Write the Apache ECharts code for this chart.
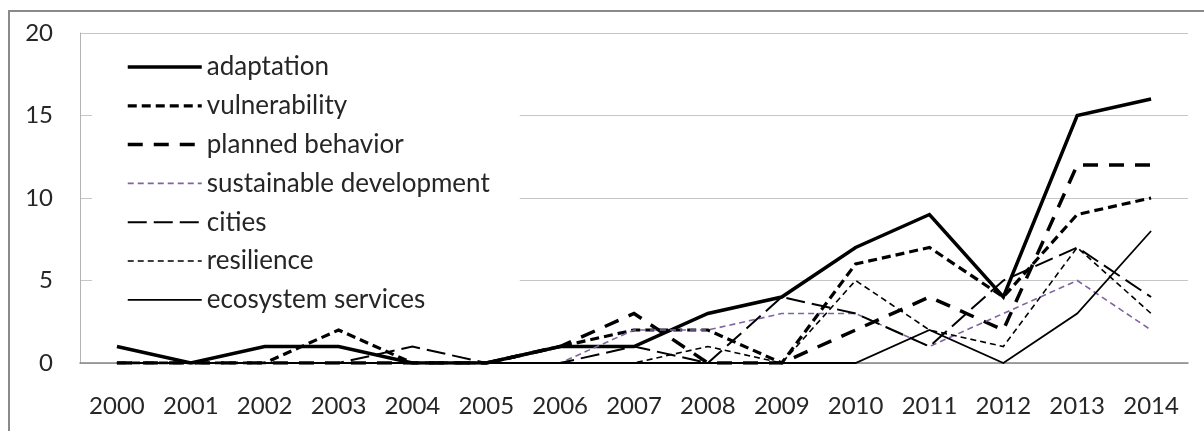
<!DOCTYPE html>
<html>
<head>
<meta charset="utf-8">
<script src="https://cdn.jsdelivr.net/npm/echarts@6/dist/echarts.min.js"></script>
<style>
  html, body { margin: 0; padding: 0; background: #ffffff; }
  #chart { width: 1204px; height: 431px; }
</style>
</head>
<body>
<div id="chart"></div>
<script>
// Publication counts per keyword, 2000–2014
const years = ['2000', '2001', '2002', '2003', '2004', '2005', '2006', '2007',
               '2008', '2009', '2010', '2011', '2012', '2013', '2014'];

const adaptation             = [1, 0, 1, 1, 0, 0, 1, 1, 3, 4, 7, 9, 4, 15, 16];
const vulnerability          = [0, 0, 0, 2, 0, 0, 1, 2, 2, 0, 6, 7, 4, 9, 10];
const plannedBehavior        = [0, 0, 0, 0, 0, 0, 1, 3, 0, 0, 2, 4, 2, 12, 12];
const sustainableDevelopment = [0, 0, 0, 0, 0, 0, 0, 2, 2, 3, 3, 1, 3, 5, 2];
const cities                 = [0, 0, 0, 0, 1, 0, 0, 1, 0, 4, 3, 1, 5, 7, 4];
const resilience             = [0, 0, 0, 0, 0, 0, 0, 0, 1, 0, 5, 2, 1, 7, 3];
const ecosystemServices      = [0, 0, 0, 0, 0, 0, 0, 0, 0, 0, 0, 2, 0, 3, 8];

const yTicks = { min: 0, max: 20, interval: 5 };

// Line appearance for each keyword
const styles = [
  { name: 'adaptation',              data: adaptation,             color: '#000000', width: 3.5, dash: 'solid' },
  { name: 'vulnerability',           data: vulnerability,          color: '#000000', width: 3.2, dash: [9, 5] },
  { name: 'planned behavior',        data: plannedBehavior,        color: '#000000', width: 3.5, dash: [15, 11] },
  { name: 'sustainable development', data: sustainableDevelopment, color: '#8064A2', width: 1.6, dash: [6, 4] },
  { name: 'cities',                  data: cities,                 color: '#000000', width: 2,   dash: [19, 7] },
  { name: 'resilience',              data: resilience,             color: '#000000', width: 1.6, dash: [6, 4] },
  { name: 'ecosystem services',      data: ecosystemServices,      color: '#000000', width: 1.8, dash: 'solid' }
];

const FONT = 'Lato, "Open Sans", sans-serif';
const TEXT = '#262626';

const chart = echarts.init(document.getElementById('chart'), null, { renderer: 'canvas' });

chart.setOption({
  animation: false,
  backgroundColor: '#ffffff',
  graphic: [{
    type: 'rect',
    z: -10,
    silent: true,
    shape: { x: 9, y: 11, width: 1400, height: 600 },
    style: { fill: null, stroke: '#8a8a8a', lineWidth: 2 }
  }],
  grid: { left: 80, right: 16, top: 33, bottom: 68 },
  legend: {
    orient: 'vertical',
    left: 92,
    top: 41,
    padding: [13, 30, 10, 34],
    backgroundColor: '#ffffff',
    itemWidth: 74,
    itemHeight: 20,
    itemGap: 12.8,
    selectedMode: false,
    itemStyle: { opacity: 0 },
    textStyle: { fontFamily: FONT, fontSize: 26, color: TEXT },
    data: styles.map(s => ({
      name: s.name,
      lineStyle: { color: s.color, width: s.width, type: s.dash, cap: 'butt' }
    }))
  },
  xAxis: {
    type: 'category',
    data: years,
    boundaryGap: true,
    axisTick: { show: false },
    axisLine: { lineStyle: { color: '#868686', width: 1.5 } },
    axisLabel: { fontFamily: FONT, fontSize: 24, color: TEXT, margin: 31 }
  },
  yAxis: {
    type: 'value',
    min: yTicks.min,
    max: yTicks.max,
    interval: yTicks.interval,
    axisLine: { show: true, lineStyle: { color: '#b4b4b4', width: 1 } },
    axisTick: { show: false },
    splitLine: { lineStyle: { color: '#c6c6c6', width: 1 } },
    axisLabel: { fontFamily: FONT, fontSize: 24, color: TEXT, margin: 27 }
  },
  series: styles.map(s => ({
    name: s.name,
    type: 'line',
    data: s.data,
    symbol: 'none',
    silent: true,
    emphasis: { disabled: true },
    lineStyle: { color: s.color, width: s.width, type: s.dash, cap: 'butt', join: 'miter' },
    itemStyle: { color: s.color }
  }))
});
</script>
</body>
</html>
